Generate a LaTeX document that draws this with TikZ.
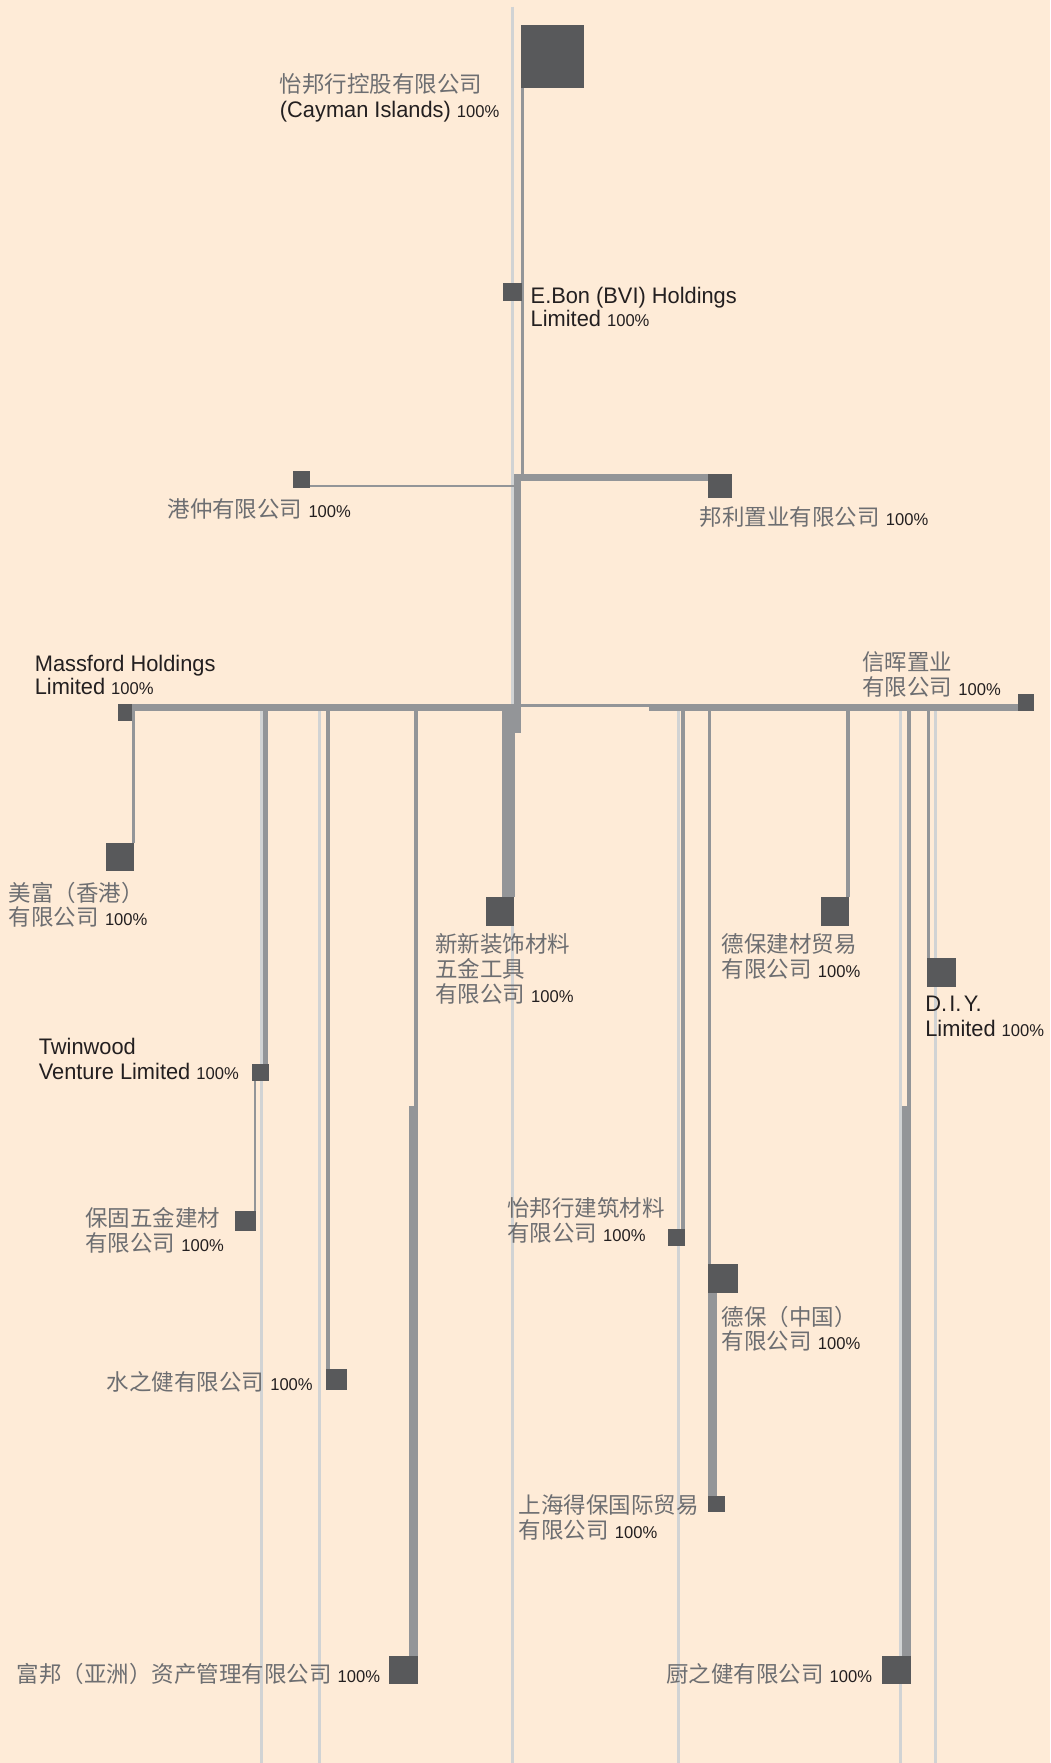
\documentclass[tikz,border=0pt]{standalone}
\usepackage{fontspec}
\setmainfont{Liberation Sans}[FakeStretch=0.97]
\newfontfamily\cjk{Noto Sans CJK SC}
\definecolor{bgc}{HTML}{FEEBD7}
\definecolor{boxc}{HTML}{58595B}
\definecolor{midc}{HTML}{939598}
\definecolor{lightc}{HTML}{D1D3D4}
\definecolor{cjkc}{HTML}{6D6E71}
\definecolor{engc}{HTML}{231F20}
\newcommand{\zhT}[1]{{\cjk\fontsize{20}{22}\selectfont\color{cjkc}#1}}
\newcommand{\enT}[1]{{\fontsize{20}{22}\selectfont\color{engc}#1}}
\newcommand{\pcT}{{\fontsize{15.2}{17}\selectfont\color{engc}100\%}}
\tikzset{
  cobox/.style 2 args={fill=boxc, draw=none, inner sep=0pt, outer sep=0pt,
    minimum width=#1pt, minimum height=#2pt},
  txt/.style={anchor=base west, inner sep=0pt, outer sep=0pt,
    font=\fontsize{20}{22}\selectfont},
  lightln/.style={draw=lightc, line width=2.7pt},
  midln/.style={draw=midc},
}
\begin{document}
\begin{tikzpicture}[x=1pt,y=-1pt]
\fill[bgc] (0,0) rectangle (934,1568);
\useasboundingbox (0,0) rectangle (934,1568);
\coordinate (bot) at (0,1568);

% boxes
\path
 (491,50)       node[cobox={56}{56}]     (top) {}
 (455.5,260)    node[cobox={17}{16}]     (ebon) {}
 (268.5,426.5)  node[cobox={15}{15}]     (gz) {}
 (640.5,432.5)  node[cobox={21}{21}]     (bangli) {}
 (111.2,633.5)  node[cobox={12.5}{15}]   (massford) {}
 (912.8,624.5)  node[cobox={14.5}{15}]   (xinhui) {}
 (106.7,762.5)  node[cobox={25.5}{25}]   (meifu) {}
 (445,811)      node[cobox={25}{26}]     (xinxin) {}
 (742.8,811)    node[cobox={25}{26}]     (debaojc) {}
 (837.2,864.8)  node[cobox={25.6}{25.6}] (diy) {}
 (232,953.5)    node[cobox={15}{15}]     (twinwood) {}
 (218.2,1086)   node[cobox={18.5}{18}]   (baogu) {}
 (601.8,1100.5) node[cobox={14.5}{15}]   (yibangjz) {}
 (643,1137)     node[cobox={26}{26}]     (debaozg) {}
 (299,1227)     node[cobox={19}{19.3}]   (szj) {}
 (637.5,1337.8) node[cobox={15}{14.5}]   (shanghai) {}
 (359,1485.5)   node[cobox={26}{25}]     (fubang) {}
 (797.2,1485.5) node[cobox={25.5}{25}]   (czj) {};

% junction coordinates
\coordinate (lc) at (455.8,6);
\coordinate (l1) at (232.3,632);
\coordinate (l2) at (284.1,632);
\coordinate (l3) at (603.3,632);
\coordinate (l4) at (801,632);
\coordinate (l5) at (832,632);
\coordinate (jTop) at (464.7,422);
\coordinate (h1) at (457,425);
\coordinate (h2) at (458,432);
\coordinate (v0) at (460.2,422);
\coordinate (v0b) at (460.2,651.6);
\coordinate (barC) at (463.4,629);
\coordinate (thinA) at (463.4,627.25);
\coordinate (thinB) at (577.3,627.25);
\coordinate (barR) at (577.3,629);
\coordinate (bMeifu) at (118.8,632);
\coordinate (bTw) at (236.5,629);
\coordinate (bSzj) at (291.5,629);
\coordinate (bFb) at (369.9,629);
\coordinate (bFb2) at (369.9,983.3);
\coordinate (bFb3) at (367.8,983.3);
\coordinate (bXx) at (452.2,629);
\coordinate (bYb) at (607.5,629);
\coordinate (bDz) at (631.1,629);
\coordinate (bDz2) at (633.8,1150);
\coordinate (bDj) at (754.2,629);
\coordinate (bCz) at (808.5,629);
\coordinate (bCz2) at (808.5,983.3);
\coordinate (bCz3) at (806.3,983.3);
\coordinate (bDiy) at (826,629);
\coordinate (bTw2) at (226.5,961);

% light lines
\draw[lightln] (lc) -- (lc |- bot);
\foreach \c in {l1,l2,l3,l4,l5} \draw[lightln] (\c) -- (\c |- bot);

% medium lines
\draw[midln, line width=2.6pt] (top.south -| jTop) -- (jTop);
\draw[midln, line width=6pt] (h1) -- (h1 -| bangli.west);
\draw[midln, line width=2pt] (h2) -- (h2 -| gz.east);
\draw[midln, line width=6.4pt] (v0) -- (v0b);
\draw[midln, line width=6.4pt] (massford.east |- barC) -- (barC);
\draw[midln, line width=2.5pt] (thinA) -- (thinB);
\draw[midln, line width=6pt] (barR) -- (barR -| xinhui.west);
\draw[midln, line width=2.4pt] (bMeifu) -- (bMeifu |- meifu.north);
\draw[midln, line width=4.5pt] (bTw) -- (bTw |- twinwood.north);
\draw[midln, line width=2pt] (bTw2) -- (bTw2 |- baogu.north);
\draw[midln, line width=4pt] (bSzj) -- (bSzj |- szj.north);
\draw[midln, line width=3.5pt] (bFb) -- (bFb2);
\draw[midln, line width=8pt] (bFb3) -- (bFb3 |- fubang.north);
\draw[midln, line width=11.5pt] (bXx) -- (bXx |- xinxin.north);
\draw[midln, line width=3.6pt] (bYb) -- (bYb |- yibangjz.north);
\draw[midln, line width=3pt] (bDz) -- (bDz |- debaozg.north);
\draw[midln, line width=8.4pt] (bDz2) -- (bDz2 |- shanghai.north);
\draw[midln, line width=3.5pt] (bDj) -- (bDj |- debaojc.north);
\draw[midln, line width=3.5pt] (bCz) -- (bCz2);
\draw[midln, line width=8pt] (bCz3) -- (bCz3 |- czj.north);
\draw[midln, line width=3pt] (bDiy) -- (bDiy |- diy.north);

% boxes on top of the lines
\foreach \b in {top,ebon,gz,bangli,massford,xinhui,meifu,xinxin,debaojc,diy,twinwood,baogu,yibangjz,debaozg,szj,shanghai,fubang,czj}
  \fill[boxc] (\b.south west) rectangle (\b.north east);

% labels
\node[txt] (t1a) at (249,82.5) {\zhT{怡邦行控股有限公司}};
\node[txt] (t1b) at (249,104.8) {\enT{(Cayman Islands)} \pcT};
\node[txt] (t2a) at (472,270) {\enT{E.Bon (BVI) Holdings}};
\node[txt] (t2b) at (472,290.8) {\enT{Limited} \pcT};
\node[txt] (t3) at (149,460.6) {\zhT{港仲有限公司} \pcT};
\node[txt] (t4) at (622.5,467) {\zhT{邦利置业有限公司} \pcT};
\node[txt] (t5a) at (31,596.8) {\enT{Massford Holdings}};
\node[txt] (t5b) at (31,618) {\enT{Limited} \pcT};
\node[txt] (t6a) at (767,596.5) {\zhT{信晖置业}};
\node[txt] (t6b) at (767,618.5) {\zhT{有限公司} \pcT};
\node[txt] (t7a) at (8,801.5) {\zhT{美富（香港）}};
\node[txt] (t7b) at (8,823.5) {\zhT{有限公司} \pcT};
\node[txt] (t8a) at (387,847.5) {\zhT{新新装饰材料}};
\node[txt] (t8b) at (387,869.5) {\zhT{五金工具}};
\node[txt] (t8c) at (387,892) {\zhT{有限公司} \pcT};
\node[txt] (t9a) at (642,847.5) {\zhT{德保建材贸易}};
\node[txt] (t9b) at (642,869.5) {\zhT{有限公司} \pcT};
\node[txt] (t10a) at (823,900) {\enT{D.\kern2pt I.\kern2pt Y.}};
\node[txt] (t10b) at (823,922) {\enT{Limited} \pcT};
\node[txt] (t11a) at (34.5,938) {\enT{Twinwood}};
\node[txt] (t11b) at (34.5,960) {\enT{Venture Limited} \pcT};
\node[txt] (t12a) at (76,1091) {\zhT{保固五金建材}};
\node[txt] (t12b) at (76,1113) {\zhT{有限公司} \pcT};
\node[txt] (t13) at (95,1237) {\zhT{水之健有限公司} \pcT};
\node[txt] (t14) at (15,1496) {\zhT{富邦（亚洲）资产管理有限公司} \pcT};
\node[txt] (t15a) at (451,1082) {\zhT{怡邦行建筑材料}};
\node[txt] (t15b) at (451,1104) {\zhT{有限公司} \pcT};
\node[txt] (t16a) at (642,1178.5) {\zhT{德保（中国）}};
\node[txt] (t16b) at (642,1200.5) {\zhT{有限公司} \pcT};
\node[txt] (t17a) at (461.5,1346.5) {\zhT{上海得保国际贸易}};
\node[txt] (t17b) at (461.5,1368.5) {\zhT{有限公司} \pcT};
\node[txt] (t18) at (592.5,1496) {\zhT{厨之健有限公司} \pcT};
\end{tikzpicture}
\end{document}
